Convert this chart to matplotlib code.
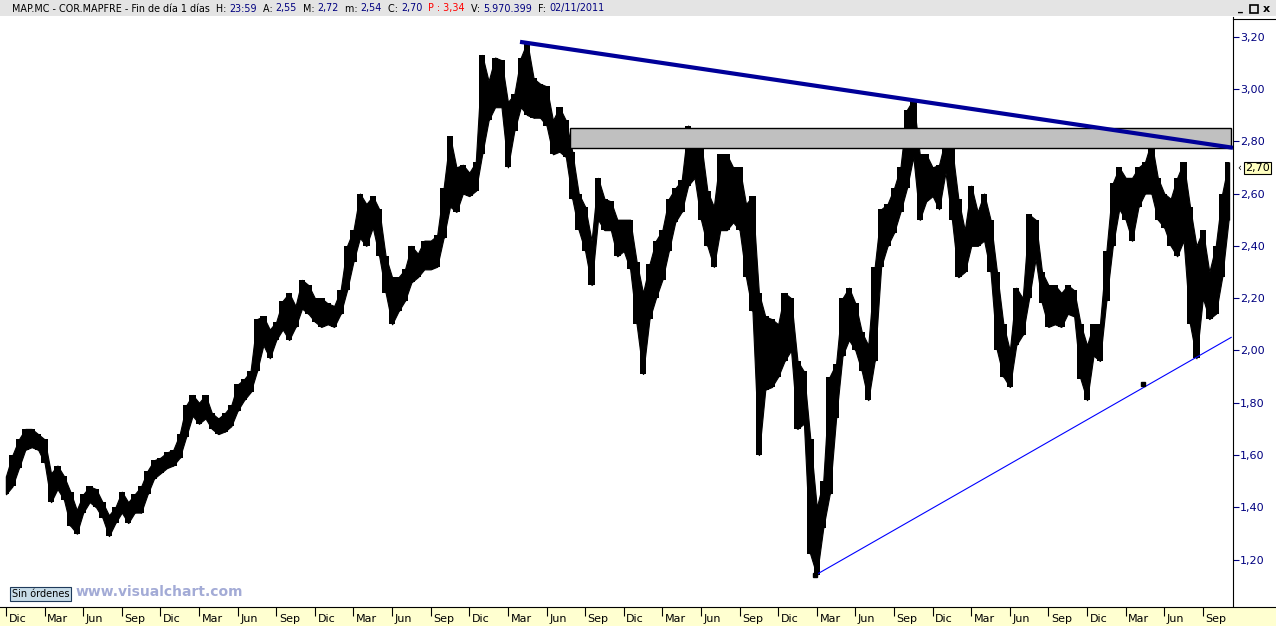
"""
MAP.MC - COR.MAPFRE, gráfico diario Dic 2003 - Nov 2011 (estilo Visual Chart)
"""
import numpy as np
import matplotlib.pyplot as plt
from matplotlib.patches import Rectangle
from matplotlib.lines import Line2D

plt.rcParams['font.family'] = ['DejaVu Sans']

W, H = 1276, 626

# ========== datos (meses desde Dic-2003, cada medio mes) ==========
months = np.arange(0, 95.5, 0.5)

lows = [
    1.45, 1.48, 1.55, 1.62, 1.63, 1.62, 1.57, 1.42, 1.47, 1.43,
    1.33, 1.30, 1.38, 1.42, 1.40, 1.36, 1.29, 1.34, 1.38, 1.34,
    1.38, 1.38, 1.45, 1.51, 1.53, 1.55, 1.56, 1.59, 1.67, 1.75,
    1.72, 1.74, 1.70, 1.68, 1.69, 1.71, 1.77, 1.81, 1.84, 1.92,
    2.02, 1.97, 2.04, 2.08, 2.04, 2.09, 2.16, 2.14, 2.11, 2.09,
    2.10, 2.09, 2.14, 2.23, 2.34, 2.43, 2.40, 2.47, 2.36, 2.22,
    2.10, 2.15, 2.19, 2.26, 2.28, 2.31, 2.31, 2.32, 2.43, 2.55,
    2.53, 2.60, 2.59, 2.61, 2.75, 2.88, 2.93, 2.93, 2.70, 2.84,
    2.93, 2.90, 2.89, 2.89, 2.86, 2.75, 2.76, 2.74, 2.58, 2.46,
    2.38, 2.25, 2.50, 2.46, 2.46, 2.36, 2.38, 2.31, 2.10, 1.91,
    2.12, 2.20, 2.27, 2.38, 2.49, 2.53, 2.63, 2.66, 2.50, 2.40,
    2.32, 2.46, 2.46, 2.49, 2.46, 2.28, 2.15, 1.60, 1.85, 1.86,
    1.90, 1.96, 2.00, 1.70, 1.72, 1.22, 1.14, 1.32, 1.45, 1.74,
    1.98, 2.04, 2.00, 1.92, 1.81, 1.96, 2.32, 2.40, 2.45, 2.53,
    2.62, 2.74, 2.50, 2.57, 2.59, 2.54, 2.68, 2.50, 2.28, 2.30,
    2.40, 2.40, 2.42, 2.30, 2.00, 1.90, 1.86, 2.02, 2.06, 2.20,
    2.35, 2.18, 2.09, 2.10, 2.09, 2.14, 2.13, 1.89, 1.81, 1.98,
    1.96, 2.19, 2.40, 2.54, 2.50, 2.42, 2.55, 2.60, 2.60, 2.50,
    2.47, 2.40, 2.36, 2.42, 2.10, 1.97, 2.20, 2.12, 2.14, 2.28,
    2.50,
]

highs = [
    1.52, 1.60, 1.66, 1.70, 1.70, 1.68, 1.66, 1.53, 1.56, 1.52,
    1.46, 1.39, 1.45, 1.48, 1.47, 1.42, 1.37, 1.40, 1.46, 1.42,
    1.45, 1.48, 1.54, 1.58, 1.59, 1.61, 1.62, 1.68, 1.79, 1.83,
    1.80, 1.83, 1.76, 1.74, 1.76, 1.79, 1.87, 1.89, 1.92, 2.12,
    2.13, 2.08, 2.11, 2.19, 2.22, 2.17, 2.27, 2.25, 2.20, 2.20,
    2.18, 2.17, 2.23, 2.40, 2.46, 2.60, 2.56, 2.59, 2.54, 2.36,
    2.28, 2.28, 2.31, 2.40, 2.37, 2.42, 2.42, 2.44, 2.62, 2.82,
    2.70, 2.71, 2.68, 2.72, 3.13, 3.03, 3.12, 3.11, 2.95, 2.98,
    3.12, 3.18, 3.04, 3.02, 3.01, 2.88, 2.93, 2.88, 2.76, 2.60,
    2.55, 2.42, 2.66, 2.58, 2.57, 2.50, 2.50, 2.50, 2.34, 2.22,
    2.33, 2.42, 2.46, 2.58, 2.62, 2.65, 2.86, 2.82, 2.80, 2.61,
    2.55, 2.75, 2.75, 2.70, 2.70, 2.56, 2.59, 2.22, 2.13, 2.12,
    2.10, 2.22, 2.20, 1.96, 1.92, 1.66, 1.40, 1.50, 1.90, 1.95,
    2.20, 2.24, 2.18, 2.07, 2.02, 2.32, 2.54, 2.56, 2.62, 2.70,
    2.92, 2.96, 2.75, 2.75, 2.70, 2.71, 2.81, 2.78, 2.58, 2.46,
    2.63, 2.53, 2.60, 2.50, 2.30, 2.10, 2.00, 2.24, 2.20, 2.52,
    2.50, 2.30, 2.25, 2.25, 2.22, 2.25, 2.23, 2.10, 2.02, 2.10,
    2.10, 2.38, 2.64, 2.70, 2.66, 2.66, 2.70, 2.72, 2.80, 2.66,
    2.60, 2.58, 2.66, 2.72, 2.55, 2.40, 2.46, 2.30, 2.40, 2.60,
    2.72,
]

tick_months = list(range(0, 94, 3))
tick_names = ['Dic', 'Mar', 'Jun', 'Sep']
price_ticks = [1.2, 1.4, 1.6, 1.8, 2.0, 2.2, 2.4, 2.6, 2.8, 3.0, 3.2]
last_close = 2.70

# líneas dibujadas a mano en el gráfico
resist_line = ([39.94, 95.34], [3.18, 2.775])
support_line = ([62.86, 95.2], [1.14, 2.05])
support_marks = ([62.86, 88.35], [1.14, 1.87])
zone_m = (43.82, 95.18)
zone_p = (2.775, 2.85)


def px(x0, y0, x1, y1):
    return [x0 / W, 1 - y1 / H, (x1 - x0) / W, (y1 - y0) / H]


fig = plt.figure(figsize=(W / 100, H / 100), dpi=100)
fig.patch.set_facecolor('white')

# ========== cabecera ==========
fig.add_artist(Rectangle((0, 1 - 16 / H), 1, 16 / H, transform=fig.transFigure,
                         facecolor='#e4e4e4', edgecolor='none'))
navy = '#000080'
segments = [
    ('MAP.MC - COR.MAPFRE - Fin de día 1 días  H: ', 'black'),
    ('23:59', navy), ('  A: ', 'black'), ('2,55', navy),
    ('  M: ', 'black'), ('2,72', navy), ('  m: ', 'black'), ('2,54', navy),
    ('  C: ', 'black'), ('2,70', navy), ('  ', 'black'), ('P : 3,34', '#ff0000'),
    ('  V: ', 'black'), ('5.970.399', navy), ('  F: ', 'black'), ('02/11/2011', navy),
]
renderer = fig.canvas.get_renderer()
xh = 12
for s, c in segments:
    t = fig.text(xh / W, 1 - 8.5 / H, s, color=c, fontsize=6.9, va='center', ha='left')
    xh += t.get_window_extent(renderer=renderer).width

# botones de ventana
fig.text(1238 / W, 1 - 8 / H, '_', fontsize=7, fontweight='bold', va='center')
fig.add_artist(Rectangle((1250 / W, 1 - 13 / H), 8 / W, 8 / H, transform=fig.transFigure,
                         facecolor='none', edgecolor='black', lw=1.2))
fig.text(1263 / W, 1 - 9 / H, 'x', fontsize=8, fontweight='bold', va='center')

# ========== gráfico principal ==========
ax = fig.add_axes(px(0, 17, 1233, 607))
ax.set_xlim(-0.466, 95.34)
ax.set_ylim(1.019, 3.275)

ax.fill_between(months, lows, highs, step='mid', color='black', lw=0)
ax.fill_between(months, lows, highs, color='black', lw=0.8)
ax.vlines(months, lows, highs, color='black', lw=1.0)

ax.add_patch(Rectangle((zone_m[0], zone_p[0]), zone_m[1] - zone_m[0], zone_p[1] - zone_p[0],
                       facecolor='#c0c0c0', edgecolor='black', lw=1.0, zorder=3))
ax.plot(*resist_line, color='#000099', lw=3.0, solid_capstyle='butt', zorder=4)
ax.plot(*support_line, color='#0000ff', lw=0.8, zorder=4)
ax.plot(*support_marks, 's', color='black', ms=3.5, zorder=5)

for side in ['top', 'left', 'bottom']:
    ax.spines[side].set_visible(False)
ax.spines['right'].set_color('black')
ax.yaxis.tick_right()
ax.set_yticks(price_ticks)
ax.set_yticklabels([f'{v:.2f}'.replace('.', ',') for v in price_ticks])
ax.tick_params(axis='y', direction='out', length=4, width=0.8, color=navy,
               labelcolor=navy, labelsize=8, pad=1)
ax.set_xticks([])

# borde superior de la escala
fig.add_artist(Line2D([1233 / W, 1], [1 - 19 / H, 1 - 19 / H], transform=fig.transFigure,
                      color='black', lw=0.8))

# etiqueta del último precio
fig.text(1237 / W, 1 - 168 / H, '‹', fontsize=7, va='center', ha='left', color='black')
fig.text(1245 / W, 1 - 168 / H, f'{last_close:.2f}'.replace('.', ','), fontsize=8,
         va='center', ha='left', color='black',
         bbox=dict(boxstyle='square,pad=0.12', fc='#ffffc0', ec='black', lw=0.8))

# ========== eje de fechas ==========
bx = fig.add_axes(px(0, 607, 1276, 626))
bx.set_xlim(-0.466, 98.68)
bx.set_ylim(0, 1)
bx.set_facecolor('#ffffd0')
for side in ['left', 'right', 'bottom']:
    bx.spines[side].set_visible(False)
bx.spines['top'].set_color('black')
bx.set_xticks([])
bx.set_yticks([])
for i, m in enumerate(tick_months):
    bx.vlines(m, 0.55, 1, color='black', lw=0.8)
    bx.text(m + 0.2, 0.35, tick_names[i % 4], fontsize=8, va='center', ha='left')

# ========== marca de agua ==========
fig.text(12 / W, 1 - 594 / H, 'Sin órdenes', fontsize=7, va='center', ha='left',
         bbox=dict(boxstyle='square,pad=0.2', fc='#c8dce8', ec='#1f3a5a', lw=0.8))
fig.text(76 / W, 1 - 592 / H, 'www.visualchart.com', fontsize=10, fontweight='bold',
         color='#a3abd6', va='center', ha='left')

fig.savefig('out.png', dpi=100)
